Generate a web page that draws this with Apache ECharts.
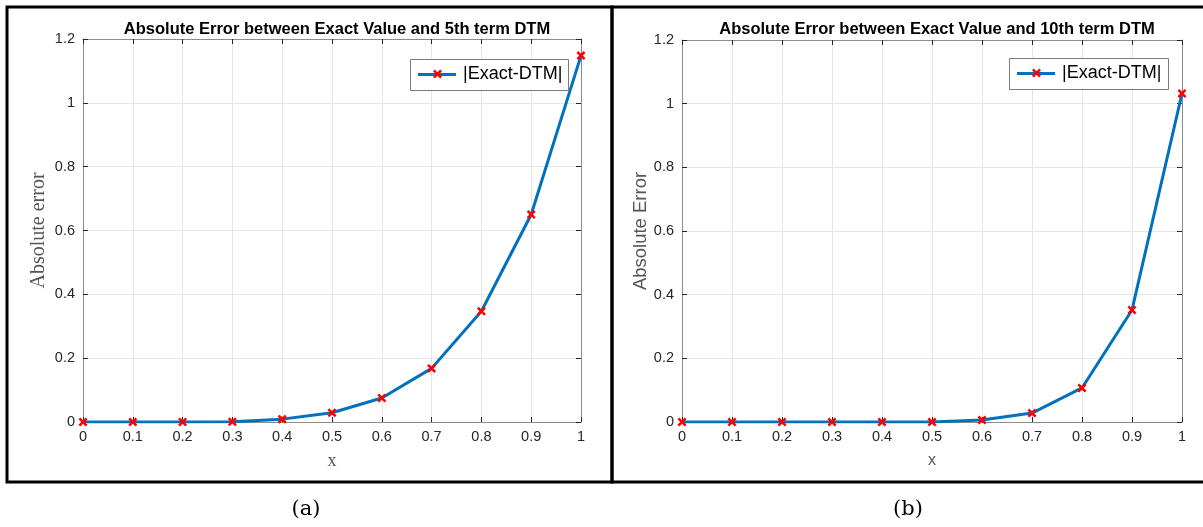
<!DOCTYPE html>
<html>
<head>
<meta charset="utf-8">
<script src="https://cdn.jsdelivr.net/npm/echarts@6/dist/echarts.min.js"></script>
<style>
  html, body { margin: 0; padding: 0; background: #fff; }
  #main { width: 1203px; height: 527px; }
</style>
</head>
<body>
<div id="main"></div>
<script>
  // x positions shared by both panels
  var xValues = [0, 0.1, 0.2, 0.3, 0.4, 0.5, 0.6, 0.7, 0.8, 0.9, 1]
  // |Exact - DTM| with 5 terms (panel a)
  var error5 = [0, 0, 0, 0.001, 0.009, 0.029, 0.075, 0.168, 0.347, 0.650, 1.148]
  // |Exact - DTM| with 10 terms (panel b)
  var error10 = [0, 0, 0, 0, 0, 0.0002, 0.006, 0.028, 0.107, 0.352, 1.032]
  var titles = ['Absolute Error between Exact Value and 5th term DTM',
    'Absolute Error between Exact Value and 10th term DTM']
  var yNames = ['Absolute error', 'Absolute Error']
  var captions = ['(a)', '(b)']
  var seriesName = '|Exact-DTM|'

  var sans = '"Liberation Sans", Arial, sans-serif'
  var serif = '"Liberation Serif", "Times New Roman", serif'
  var tickColor = '#262626'
  var boxColor = '#8c8c8c'
  var crossPath = 'path://M0,2 L2,0 L5,3 L8,0 L10,2 L7,5 L10,8 L8,10 L5,7 L2,10 L0,8 L3,5 Z'

  var grids = [
    { left: 83, top: 39, width: 498, height: 383 },
    { left: 682, top: 40, width: 500, height: 382 }
  ]
  // legend boxes [x, y, w, h]
  var legendBoxes = [[410, 59, 158, 31], [1009, 58, 159, 31]]

  function pairs (ys) {
    return xValues.map(function (x, i) { return [x, ys[i]] })
  }

  function xFmt (v) {
    return String(Math.round(v * 10) / 10)
  }

  var xAxes = []
  var yAxes = []
  var series = []
  var legends = []
  var titleList = []
  var graphics = []
  var datas = [error5, error10]

  grids.forEach(function (g, i) {
    var nameFont = i === 0 ? serif : sans
    // bottom axis with labels
    xAxes.push({
      type: 'value', gridIndex: i, min: 0, max: 1, interval: 0.1,
      name: 'x', nameLocation: 'middle', nameGap: i === 0 ? 30 : 31,
      nameTextStyle: { color: '#555', fontFamily: nameFont, fontSize: i === 0 ? 18 : 16 },
      axisLine: { show: true, onZero: false, lineStyle: { color: boxColor, width: 1 } },
      axisTick: { show: true, inside: true, length: 5, lineStyle: { color: tickColor } },
      axisLabel: { color: tickColor, fontFamily: sans, fontSize: 14.5, margin: 7, formatter: xFmt },
      splitLine: { show: true, lineStyle: { color: '#e6e6e6', width: 1 } }
    })
    // top axis: box edge + inner ticks only
    xAxes.push({
      type: 'value', gridIndex: i, min: 0, max: 1, interval: 0.1, position: 'top',
      axisLine: { show: true, onZero: false, lineStyle: { color: boxColor, width: 1 } },
      axisTick: { show: true, inside: true, length: 5, lineStyle: { color: tickColor } },
      axisLabel: { show: false },
      splitLine: { show: false }
    })
    yAxes.push({
      type: 'value', gridIndex: i, min: 0, max: 1.2, interval: 0.2,
      name: yNames[i], nameLocation: 'middle', nameGap: i === 0 ? 34 : 30,
      nameTextStyle: { color: '#555', fontFamily: nameFont, fontSize: i === 0 ? 20 : 18.5 },
      axisLine: { show: true, onZero: false, lineStyle: { color: boxColor, width: 1 } },
      axisTick: { show: true, inside: true, length: 5, lineStyle: { color: tickColor } },
      axisLabel: { color: tickColor, fontFamily: sans, fontSize: 14.5, margin: 8 },
      splitLine: { show: true, lineStyle: { color: '#e6e6e6', width: 1 } }
    })
    yAxes.push({
      type: 'value', gridIndex: i, min: 0, max: 1.2, interval: 0.2, position: 'right',
      axisLine: { show: true, onZero: false, lineStyle: { color: boxColor, width: 1 } },
      axisTick: { show: true, inside: true, length: 5, lineStyle: { color: tickColor } },
      axisLabel: { show: false },
      splitLine: { show: false }
    })
    series.push({
      name: seriesName, type: 'line', xAxisIndex: i * 2, yAxisIndex: i * 2,
      data: pairs(datas[i]),
      symbol: crossPath, symbolSize: 9, showSymbol: true,
      lineStyle: { color: '#0072BD', width: 3 },
      itemStyle: { color: '#ff0000' },
      z: 3
    })
    var b = legendBoxes[i]
    legends.push({
      data: [{ name: seriesName, icon: crossPath }],
      left: b[0] + 23, top: b[1] + 6,
      itemWidth: 9, itemHeight: 9, itemGap: 0,
      formatter: function (name) { return '{t|' + name + '}' },
      textStyle: {
        color: '#000', fontFamily: sans, fontSize: 18,
        rich: { t: { color: '#000', fontFamily: sans, fontSize: 18, padding: [0, 0, 0, 16] } }
      },
      padding: 0,
      z: 10
    })
    // legend frame and line sample behind the marker
    graphics.push({ type: 'rect', shape: { x: b[0] + 0.5, y: b[1] + 0.5, width: b[2], height: b[3] }, style: { fill: '#fff', stroke: '#7a7a7a', lineWidth: 1 }, z: 5 })
    graphics.push({ type: 'line', shape: { x1: b[0] + 8, y1: b[1] + 15.5, x2: b[0] + 46, y2: b[1] + 15.5 }, style: { stroke: '#0072BD', lineWidth: 3 }, z: 6 })
    titleList.push({
      text: titles[i],
      left: g.left + g.width / 2, textAlign: 'center', top: 16,
      textStyle: { color: '#000', fontFamily: sans, fontSize: 16.5, fontWeight: 'bold' }
    })
  })

  // panel frames
  graphics.push({ type: 'rect', shape: { x: 7, y: 7, width: 605, height: 475 }, style: { fill: 'none', stroke: '#000', lineWidth: 3 }, z: 10 })
  graphics.push({ type: 'rect', shape: { x: 612, y: 7, width: 600, height: 475 }, style: { fill: 'none', stroke: '#000', lineWidth: 3 }, z: 10 })
  // captions
  graphics.push({ type: 'text', x: 306, y: 510, style: { text: captions[0], font: '21px "DejaVu Serif", serif', fill: '#000', align: 'center', verticalAlign: 'middle' } })
  graphics.push({ type: 'text', x: 908, y: 510, style: { text: captions[1], font: '21px "DejaVu Serif", serif', fill: '#000', align: 'center', verticalAlign: 'middle' } })

  var chart = echarts.init(document.getElementById('main'))
  chart.setOption({
    animation: false,
    title: titleList,
    grid: grids,
    xAxis: xAxes,
    yAxis: yAxes,
    legend: legends,
    series: series,
    graphic: graphics
  })
</script>
</body>
</html>
